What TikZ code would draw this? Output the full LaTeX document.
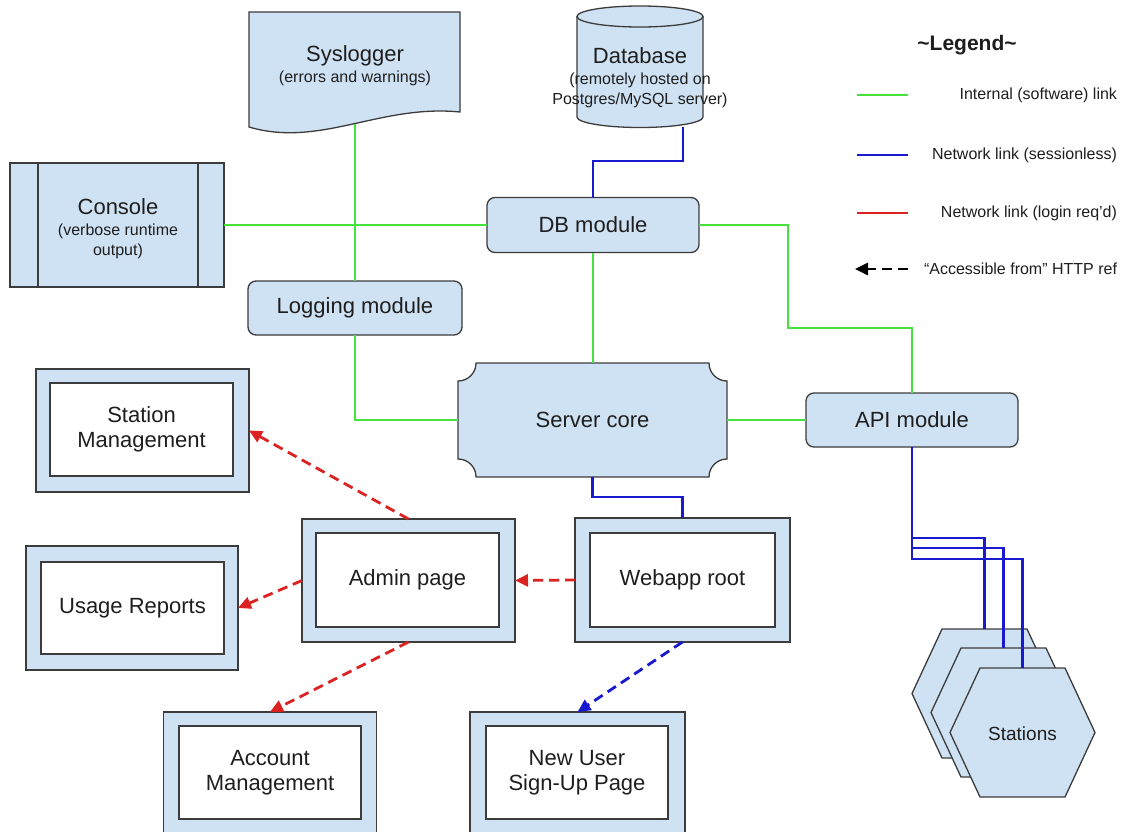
\documentclass[tikz,border=0pt]{standalone}
\usepackage{fontspec}
\setmainfont{Liberation Sans}
\usetikzlibrary{arrows.meta,calc}
\definecolor{boxfill}{HTML}{CFE2F3}
\definecolor{gline}{RGB}{70,225,60}
\definecolor{bline}{RGB}{25,25,205}
\definecolor{rline}{RGB}{220,35,35}
\definecolor{edgec}{HTML}{3C3C3C}
\definecolor{txt}{HTML}{1E1E1E}
\newcommand\smalltxt{\fontsize{16}{20}\selectfont}
\begin{document}
\begin{tikzpicture}[x=1pt,y=-1pt,
  every node/.style={text=txt, font=\fontsize{22}{25}\selectfont, inner sep=0pt, outer sep=0pt},
  bluebox/.style={draw=edgec, line width=1.3pt, fill=boxfill},
  modbox/.style={bluebox, rounded corners=8pt, minimum height=55pt},
  outerbox/.style={bluebox, minimum width=213pt, minimum height=123pt},
  innerbox/.style={draw=edgec, line width=1.3pt, fill=white, minimum width=183pt, minimum height=93pt, align=center},
  gl/.style={draw=gline, line width=2.8pt},
  bl/.style={draw=bline, line width=2.8pt},
  redarr/.style={draw=rline, line width=2.8pt, dash pattern=on 10pt off 6pt, -{Triangle[length=13pt,width=12pt]}},
  bluearr/.style={draw=bline, line width=2.8pt, dash pattern=on 10pt off 6pt, -{Triangle[length=13pt,width=12pt]}},
  hexbox/.style={draw=edgec, line width=1.3pt, fill=boxfill},
  multi/.style={align=center, font=\fontsize{22}{21}\selectfont}
]
\useasboundingbox (0,0) rectangle (1121,832);
\clip (0,0) rectangle (1121,832);
\fill[white] (0,0) rectangle (1121,832);

% ---------- Syslogger (document shape)
\path[bluebox] (249,12) -- (460,12) -- (460,112)
  .. controls (380,104) and (320,148) .. (249,127) -- cycle;
\node[multi] (syslogT) at (355,66) {Syslogger\\{\smalltxt (errors and warnings)}};
\coordinate (syslogB) at (355,124);

% ---------- Database (cylinder)
\path[bluebox] (577,16.5) -- (577,117)
  .. controls (577,122.8) and (605.2,127.5) .. (640,127.5)
  .. controls (674.8,127.5) and (703,122.8) .. (703,117) -- (703,16.5) -- cycle;
\path[bluebox] (640,16.5) ellipse [x radius=63, y radius=10.5];
\node[minimum width=126pt, minimum height=122pt] (db) at (640,66.5) {};
\node[multi] (dbT) at (640,78) {Database\\{\smalltxt (remotely hosted on}\\[-1pt]{\smalltxt Postgres/MySQL server)}};

% ---------- Console
\node[bluebox, minimum width=214pt, minimum height=124pt] (console) at (117,225) {};
\draw[draw=edgec, line width=1.3pt] ($(console.north west)+(28,0)$) -- ($(console.south west)+(28,0)$);
\draw[draw=edgec, line width=1.3pt] ($(console.north east)+(-26,0)$) -- ($(console.south east)+(-26,0)$);
\node[multi] (consoleT) at (118,229) {Console\\{\smalltxt (verbose runtime}\\[-1pt]{\smalltxt output)}};

% ---------- modules
\node[modbox, minimum width=212pt] (dbmod) at (593,225) {DB module};
\node[modbox, minimum width=214pt, minimum height=54pt] (logmod) at (355,308) {Logging module};
\node[modbox, minimum width=212pt, minimum height=54pt] (apimod) at (912,420) {API module};

% ---------- Server core
\path[bluebox] (476,363) -- (709,363) .. controls (709,373) and (717,381) .. (727,381)
  -- (727,459) .. controls (717,459) and (709,467) .. (709,477)
  -- (476,477) .. controls (476,467) and (468,459) .. (458,459)
  -- (458,381) .. controls (468,381) and (476,373) .. (476,363) -- cycle;
\node[minimum width=269pt, minimum height=114pt] (core) at (592.5,420) {Server core};

% ---------- page boxes
\node[outerbox] (stationO) at (142.5,430.5) {};
\node[innerbox] (stationI) at (141.5,429.5) {Station\\Management};
\node[outerbox, minimum width=212pt, minimum height=124pt] (usageO) at (132,608) {};
\node[innerbox, minimum height=92pt] (usageI) at (132.5,608) {Usage Reports};
\node[outerbox] (adminO) at (408.5,580.5) {};
\node[innerbox, minimum height=94pt] (adminI) at (407.5,580) {Admin page};
\node[outerbox, minimum width=215pt, minimum height=124pt] (webappO) at (682.5,580) {};
\node[innerbox, minimum width=185pt, minimum height=94pt] (webappI) at (682.5,580) {Webapp root};
\node[outerbox] (accountO) at (270,773.5) {};
\node[innerbox, minimum width=182pt] (accountI) at (270,772.5) {Account\\Management};
\node[outerbox, minimum width=215pt] (newuserO) at (577.5,773.5) {};
\node[innerbox, minimum width=182pt] (newuserI) at (577,772.5) {New User\\Sign-Up Page};

% ---------- Stations (hexagons)
\foreach \cx/\cy in {984.5/693.5, 1003.5/712.5, 1022.5/732.5} {
  \path[hexbox] (\cx-72.5,\cy) -- (\cx-42.5,\cy-64.5) -- (\cx+42.5,\cy-64.5) -- (\cx+72.5,\cy)
    -- (\cx+42.5,\cy+64.5) -- (\cx-42.5,\cy+64.5) -- cycle;
}
\node[minimum width=145pt, minimum height=129pt] (st1) at (984.5,693.5) {};
\node[minimum width=145pt, minimum height=129pt] (st2) at (1003.5,712.5) {};
\node[minimum width=145pt, minimum height=129pt, font=\fontsize{19}{22}\selectfont] (st3) at (1022.5,733.5) {Stations};

% ---------- green (internal) links
\coordinate (bendA) at (788,328);
\draw[gl] (syslogB) -- (logmod.north);
\draw[gl] (console.east) -- (dbmod.west);
\draw[gl] (dbmod.south) -- (dbmod.south |- core.north);
\draw[gl] (dbmod.east) -| (bendA) -| (apimod.north);
\draw[gl] (logmod.south) |- (core.west);
\draw[gl] (core.east) -- (apimod.west);

% ---------- blue (network) links
\coordinate (dbB) at (683,127);
\coordinate (dbJ) at (683,161);
\draw[bl] (dbB) -- (dbJ) -| (dbmod.north);
\coordinate (coreJ) at (592.5,497);
\draw[bl] (core.south) -- (coreJ) -| (webappO.north);
\coordinate (j1) at (984.5,538);
\coordinate (j2) at (1003.5,548);
\coordinate (j3) at (1022.5,559);
\draw[bl] (apimod.south) |- (j1) -- (st1.north);
\draw[bl] (apimod.south) |- (j2) -- (st2.north);
\draw[bl] (apimod.south) |- (j3) -- ($(st3.north)+(0,-1)$);

% ---------- HTTP refs
\draw[redarr] (adminO.north) -- (stationO.east);
\draw[redarr] (adminO.west) -- (usageO.east);
\draw[redarr] (adminO.south) -- (accountO.north);
\draw[redarr] (webappO.west) -- (adminO.east);
\draw[bluearr] (webappO.south) -- (newuserO.north);

% ---------- Legend
\node[font=\bfseries\fontsize{21}{24}\selectfont] (legT) at (967,45) {\textasciitilde Legend\textasciitilde};
\coordinate (lga1) at (857,95);  \coordinate (lgb1) at (908,95);
\coordinate (lga2) at (857,155); \coordinate (lgb2) at (908,155);
\coordinate (lga3) at (857,213); \coordinate (lgb3) at (908,213);
\coordinate (lga4) at (908,269); \coordinate (lgb4) at (855,269);
\draw[gl] (lga1) -- (lgb1);
\draw[bl] (lga2) -- (lgb2);
\draw[draw=rline, line width=2.8pt] (lga3) -- (lgb3);
\draw[draw=black, line width=2.8pt, dash pattern=on 10pt off 6pt, -{Triangle[length=13pt,width=12pt]}] (lga4) -- (lgb4);
\node[anchor=east, font=\fontsize{16}{19}\selectfont] (lg1) at (1117,95) {Internal (software) link};
\node[anchor=east, font=\fontsize{16}{19}\selectfont] (lg2) at (1117,155) {Network link (sessionless)};
\node[anchor=east, font=\fontsize{16}{19}\selectfont] (lg3) at (1117,213) {Network link (login req'd)};
\node[anchor=east, font=\fontsize{16}{19}\selectfont] (lg4) at (1117,269) {“Accessible from” HTTP ref};
\end{tikzpicture}
\end{document}
